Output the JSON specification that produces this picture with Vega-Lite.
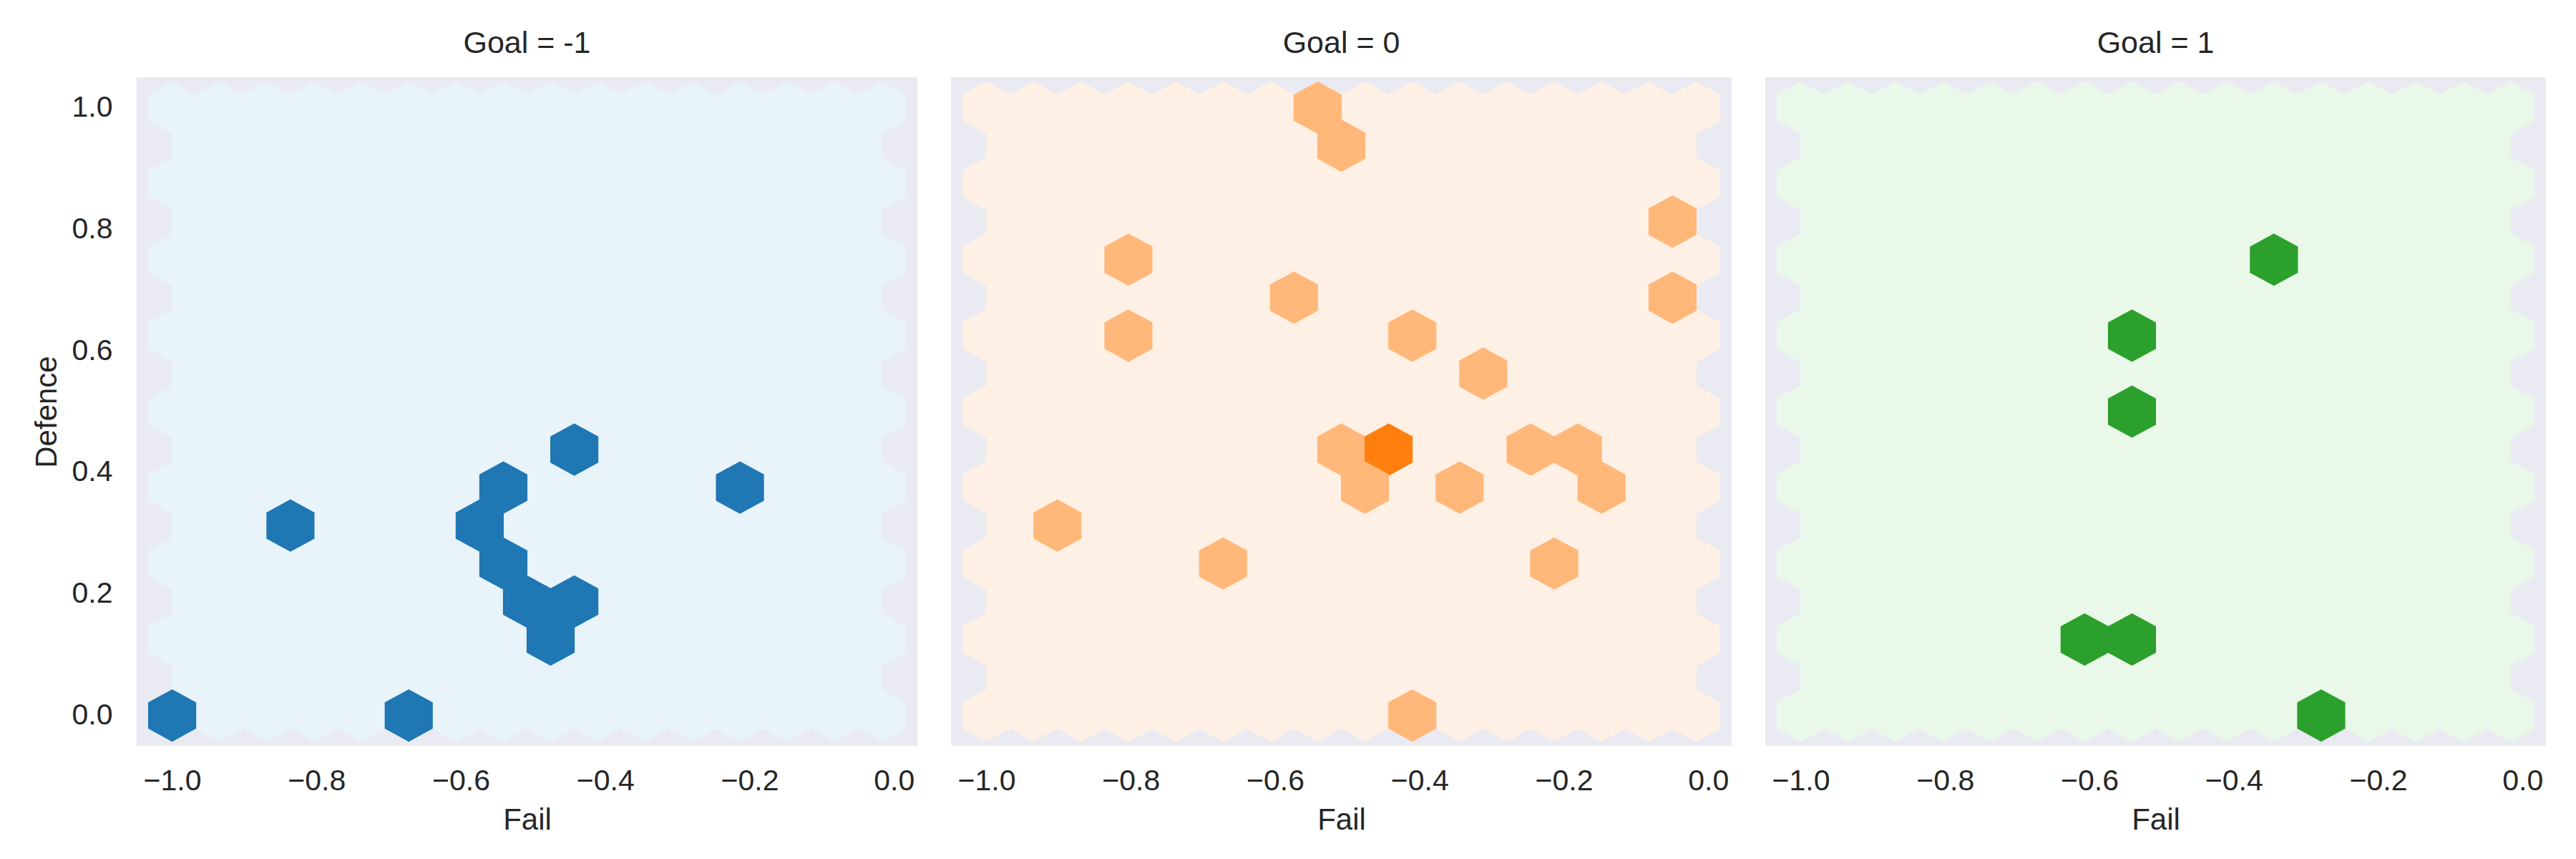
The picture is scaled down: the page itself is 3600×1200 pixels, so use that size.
{
  "$schema": "https://vega.github.io/schema/vega-lite/v6.json",
  "background": "white",
  "padding": {"left": 44, "top": 40, "right": 0, "bottom": 0},
  "spacing": 47,
  "resolve": {"scale": {"color": "independent"}},
  "config": {
    "font": "Liberation Sans",
    "view": {"fill": "#eaeaf2", "stroke": null},
    "axis": {"domain": false, "ticks": false, "tickSize": 0, "grid": false, "labelFlush": false, "labelFont": "Liberation Sans", "labelFontSize": 41, "labelColor": "#262626", "titleFont": "Liberation Sans", "titleFontSize": 42, "titleColor": "#262626", "titleFontWeight": "normal"},
    "axisX": {"labelPadding": 29, "titlePadding": 14},
    "axisY": {"labelPadding": 34, "titlePadding": 13},
    "title": {"font": "Liberation Sans", "fontSize": 43, "fontWeight": "normal", "color": "#262626", "baseline": "alphabetic", "offset": 25}
  },
  "datasets": {
    "bins": [
      {"Fail":-1,"Defence":0},{"Fail":-1,"Defence":0.125},{"Fail":-1,"Defence":0.25},{"Fail":-1,"Defence":0.375},{"Fail":-1,"Defence":0.5},{"Fail":-1,"Defence":0.625},{"Fail":-1,"Defence":0.75},{"Fail":-1,"Defence":0.875},{"Fail":-1,"Defence":1},
      {"Fail":-0.9344,"Defence":0},{"Fail":-0.9344,"Defence":0.125},{"Fail":-0.9344,"Defence":0.25},{"Fail":-0.9344,"Defence":0.375},{"Fail":-0.9344,"Defence":0.5},{"Fail":-0.9344,"Defence":0.625},{"Fail":-0.9344,"Defence":0.75},{"Fail":-0.9344,"Defence":0.875},{"Fail":-0.9344,"Defence":1},
      {"Fail":-0.8689,"Defence":0},{"Fail":-0.8689,"Defence":0.125},{"Fail":-0.8689,"Defence":0.25},{"Fail":-0.8689,"Defence":0.375},{"Fail":-0.8689,"Defence":0.5},{"Fail":-0.8689,"Defence":0.625},{"Fail":-0.8689,"Defence":0.75},{"Fail":-0.8689,"Defence":0.875},{"Fail":-0.8689,"Defence":1},
      {"Fail":-0.8033,"Defence":0},{"Fail":-0.8033,"Defence":0.125},{"Fail":-0.8033,"Defence":0.25},{"Fail":-0.8033,"Defence":0.375},{"Fail":-0.8033,"Defence":0.5},{"Fail":-0.8033,"Defence":0.625},{"Fail":-0.8033,"Defence":0.75},{"Fail":-0.8033,"Defence":0.875},{"Fail":-0.8033,"Defence":1},
      {"Fail":-0.7378,"Defence":0},{"Fail":-0.7378,"Defence":0.125},{"Fail":-0.7378,"Defence":0.25},{"Fail":-0.7378,"Defence":0.375},{"Fail":-0.7378,"Defence":0.5},{"Fail":-0.7378,"Defence":0.625},{"Fail":-0.7378,"Defence":0.75},{"Fail":-0.7378,"Defence":0.875},{"Fail":-0.7378,"Defence":1},
      {"Fail":-0.6722,"Defence":0},{"Fail":-0.6722,"Defence":0.125},{"Fail":-0.6722,"Defence":0.25},{"Fail":-0.6722,"Defence":0.375},{"Fail":-0.6722,"Defence":0.5},{"Fail":-0.6722,"Defence":0.625},{"Fail":-0.6722,"Defence":0.75},{"Fail":-0.6722,"Defence":0.875},{"Fail":-0.6722,"Defence":1},
      {"Fail":-0.6067,"Defence":0},{"Fail":-0.6067,"Defence":0.125},{"Fail":-0.6067,"Defence":0.25},{"Fail":-0.6067,"Defence":0.375},{"Fail":-0.6067,"Defence":0.5},{"Fail":-0.6067,"Defence":0.625},{"Fail":-0.6067,"Defence":0.75},{"Fail":-0.6067,"Defence":0.875},{"Fail":-0.6067,"Defence":1},
      {"Fail":-0.5411,"Defence":0},{"Fail":-0.5411,"Defence":0.125},{"Fail":-0.5411,"Defence":0.25},{"Fail":-0.5411,"Defence":0.375},{"Fail":-0.5411,"Defence":0.5},{"Fail":-0.5411,"Defence":0.625},{"Fail":-0.5411,"Defence":0.75},{"Fail":-0.5411,"Defence":0.875},{"Fail":-0.5411,"Defence":1},
      {"Fail":-0.4756,"Defence":0},{"Fail":-0.4756,"Defence":0.125},{"Fail":-0.4756,"Defence":0.25},{"Fail":-0.4756,"Defence":0.375},{"Fail":-0.4756,"Defence":0.5},{"Fail":-0.4756,"Defence":0.625},{"Fail":-0.4756,"Defence":0.75},{"Fail":-0.4756,"Defence":0.875},{"Fail":-0.4756,"Defence":1},
      {"Fail":-0.41,"Defence":0},{"Fail":-0.41,"Defence":0.125},{"Fail":-0.41,"Defence":0.25},{"Fail":-0.41,"Defence":0.375},{"Fail":-0.41,"Defence":0.5},{"Fail":-0.41,"Defence":0.625},{"Fail":-0.41,"Defence":0.75},{"Fail":-0.41,"Defence":0.875},{"Fail":-0.41,"Defence":1},
      {"Fail":-0.3444,"Defence":0},{"Fail":-0.3444,"Defence":0.125},{"Fail":-0.3444,"Defence":0.25},{"Fail":-0.3444,"Defence":0.375},{"Fail":-0.3444,"Defence":0.5},{"Fail":-0.3444,"Defence":0.625},{"Fail":-0.3444,"Defence":0.75},{"Fail":-0.3444,"Defence":0.875},{"Fail":-0.3444,"Defence":1},
      {"Fail":-0.2789,"Defence":0},{"Fail":-0.2789,"Defence":0.125},{"Fail":-0.2789,"Defence":0.25},{"Fail":-0.2789,"Defence":0.375},{"Fail":-0.2789,"Defence":0.5},{"Fail":-0.2789,"Defence":0.625},{"Fail":-0.2789,"Defence":0.75},{"Fail":-0.2789,"Defence":0.875},{"Fail":-0.2789,"Defence":1},
      {"Fail":-0.2133,"Defence":0},{"Fail":-0.2133,"Defence":0.125},{"Fail":-0.2133,"Defence":0.25},{"Fail":-0.2133,"Defence":0.375},{"Fail":-0.2133,"Defence":0.5},{"Fail":-0.2133,"Defence":0.625},{"Fail":-0.2133,"Defence":0.75},{"Fail":-0.2133,"Defence":0.875},{"Fail":-0.2133,"Defence":1},
      {"Fail":-0.1478,"Defence":0},{"Fail":-0.1478,"Defence":0.125},{"Fail":-0.1478,"Defence":0.25},{"Fail":-0.1478,"Defence":0.375},{"Fail":-0.1478,"Defence":0.5},{"Fail":-0.1478,"Defence":0.625},{"Fail":-0.1478,"Defence":0.75},{"Fail":-0.1478,"Defence":0.875},{"Fail":-0.1478,"Defence":1},
      {"Fail":-0.0822,"Defence":0},{"Fail":-0.0822,"Defence":0.125},{"Fail":-0.0822,"Defence":0.25},{"Fail":-0.0822,"Defence":0.375},{"Fail":-0.0822,"Defence":0.5},{"Fail":-0.0822,"Defence":0.625},{"Fail":-0.0822,"Defence":0.75},{"Fail":-0.0822,"Defence":0.875},{"Fail":-0.0822,"Defence":1},
      {"Fail":-0.0167,"Defence":0},{"Fail":-0.0167,"Defence":0.125},{"Fail":-0.0167,"Defence":0.25},{"Fail":-0.0167,"Defence":0.375},{"Fail":-0.0167,"Defence":0.5},{"Fail":-0.0167,"Defence":0.625},{"Fail":-0.0167,"Defence":0.75},{"Fail":-0.0167,"Defence":0.875},{"Fail":-0.0167,"Defence":1},
      {"Fail":-0.9672,"Defence":0.0625},{"Fail":-0.9672,"Defence":0.1875},{"Fail":-0.9672,"Defence":0.3125},{"Fail":-0.9672,"Defence":0.4375},{"Fail":-0.9672,"Defence":0.5625},{"Fail":-0.9672,"Defence":0.6875},{"Fail":-0.9672,"Defence":0.8125},{"Fail":-0.9672,"Defence":0.9375},
      {"Fail":-0.9017,"Defence":0.0625},{"Fail":-0.9017,"Defence":0.1875},{"Fail":-0.9017,"Defence":0.3125},{"Fail":-0.9017,"Defence":0.4375},{"Fail":-0.9017,"Defence":0.5625},{"Fail":-0.9017,"Defence":0.6875},{"Fail":-0.9017,"Defence":0.8125},{"Fail":-0.9017,"Defence":0.9375},
      {"Fail":-0.8361,"Defence":0.0625},{"Fail":-0.8361,"Defence":0.1875},{"Fail":-0.8361,"Defence":0.3125},{"Fail":-0.8361,"Defence":0.4375},{"Fail":-0.8361,"Defence":0.5625},{"Fail":-0.8361,"Defence":0.6875},{"Fail":-0.8361,"Defence":0.8125},{"Fail":-0.8361,"Defence":0.9375},
      {"Fail":-0.7706,"Defence":0.0625},{"Fail":-0.7706,"Defence":0.1875},{"Fail":-0.7706,"Defence":0.3125},{"Fail":-0.7706,"Defence":0.4375},{"Fail":-0.7706,"Defence":0.5625},{"Fail":-0.7706,"Defence":0.6875},{"Fail":-0.7706,"Defence":0.8125},{"Fail":-0.7706,"Defence":0.9375},
      {"Fail":-0.705,"Defence":0.0625},{"Fail":-0.705,"Defence":0.1875},{"Fail":-0.705,"Defence":0.3125},{"Fail":-0.705,"Defence":0.4375},{"Fail":-0.705,"Defence":0.5625},{"Fail":-0.705,"Defence":0.6875},{"Fail":-0.705,"Defence":0.8125},{"Fail":-0.705,"Defence":0.9375},
      {"Fail":-0.6394,"Defence":0.0625},{"Fail":-0.6394,"Defence":0.1875},{"Fail":-0.6394,"Defence":0.3125},{"Fail":-0.6394,"Defence":0.4375},{"Fail":-0.6394,"Defence":0.5625},{"Fail":-0.6394,"Defence":0.6875},{"Fail":-0.6394,"Defence":0.8125},{"Fail":-0.6394,"Defence":0.9375},
      {"Fail":-0.5739,"Defence":0.0625},{"Fail":-0.5739,"Defence":0.1875},{"Fail":-0.5739,"Defence":0.3125},{"Fail":-0.5739,"Defence":0.4375},{"Fail":-0.5739,"Defence":0.5625},{"Fail":-0.5739,"Defence":0.6875},{"Fail":-0.5739,"Defence":0.8125},{"Fail":-0.5739,"Defence":0.9375},
      {"Fail":-0.5083,"Defence":0.0625},{"Fail":-0.5083,"Defence":0.1875},{"Fail":-0.5083,"Defence":0.3125},{"Fail":-0.5083,"Defence":0.4375},{"Fail":-0.5083,"Defence":0.5625},{"Fail":-0.5083,"Defence":0.6875},{"Fail":-0.5083,"Defence":0.8125},{"Fail":-0.5083,"Defence":0.9375},
      {"Fail":-0.4428,"Defence":0.0625},{"Fail":-0.4428,"Defence":0.1875},{"Fail":-0.4428,"Defence":0.3125},{"Fail":-0.4428,"Defence":0.4375},{"Fail":-0.4428,"Defence":0.5625},{"Fail":-0.4428,"Defence":0.6875},{"Fail":-0.4428,"Defence":0.8125},{"Fail":-0.4428,"Defence":0.9375},
      {"Fail":-0.3772,"Defence":0.0625},{"Fail":-0.3772,"Defence":0.1875},{"Fail":-0.3772,"Defence":0.3125},{"Fail":-0.3772,"Defence":0.4375},{"Fail":-0.3772,"Defence":0.5625},{"Fail":-0.3772,"Defence":0.6875},{"Fail":-0.3772,"Defence":0.8125},{"Fail":-0.3772,"Defence":0.9375},
      {"Fail":-0.3117,"Defence":0.0625},{"Fail":-0.3117,"Defence":0.1875},{"Fail":-0.3117,"Defence":0.3125},{"Fail":-0.3117,"Defence":0.4375},{"Fail":-0.3117,"Defence":0.5625},{"Fail":-0.3117,"Defence":0.6875},{"Fail":-0.3117,"Defence":0.8125},{"Fail":-0.3117,"Defence":0.9375},
      {"Fail":-0.2461,"Defence":0.0625},{"Fail":-0.2461,"Defence":0.1875},{"Fail":-0.2461,"Defence":0.3125},{"Fail":-0.2461,"Defence":0.4375},{"Fail":-0.2461,"Defence":0.5625},{"Fail":-0.2461,"Defence":0.6875},{"Fail":-0.2461,"Defence":0.8125},{"Fail":-0.2461,"Defence":0.9375},
      {"Fail":-0.1806,"Defence":0.0625},{"Fail":-0.1806,"Defence":0.1875},{"Fail":-0.1806,"Defence":0.3125},{"Fail":-0.1806,"Defence":0.4375},{"Fail":-0.1806,"Defence":0.5625},{"Fail":-0.1806,"Defence":0.6875},{"Fail":-0.1806,"Defence":0.8125},{"Fail":-0.1806,"Defence":0.9375},
      {"Fail":-0.115,"Defence":0.0625},{"Fail":-0.115,"Defence":0.1875},{"Fail":-0.115,"Defence":0.3125},{"Fail":-0.115,"Defence":0.4375},{"Fail":-0.115,"Defence":0.5625},{"Fail":-0.115,"Defence":0.6875},{"Fail":-0.115,"Defence":0.8125},{"Fail":-0.115,"Defence":0.9375},
      {"Fail":-0.0494,"Defence":0.0625},{"Fail":-0.0494,"Defence":0.1875},{"Fail":-0.0494,"Defence":0.3125},{"Fail":-0.0494,"Defence":0.4375},{"Fail":-0.0494,"Defence":0.5625},{"Fail":-0.0494,"Defence":0.6875},{"Fail":-0.0494,"Defence":0.8125},{"Fail":-0.0494,"Defence":0.9375}
    ],
    "hex": [
      {"Goal":-1,"Fail":-1,"Defence":0,"Count":1},
      {"Goal":-1,"Fail":-0.6722,"Defence":0,"Count":1},
      {"Goal":-1,"Fail":-0.8361,"Defence":0.3125,"Count":1},
      {"Goal":-1,"Fail":-0.5411,"Defence":0.375,"Count":1},
      {"Goal":-1,"Fail":-0.5739,"Defence":0.3125,"Count":1},
      {"Goal":-1,"Fail":-0.5411,"Defence":0.25,"Count":1},
      {"Goal":-1,"Fail":-0.5083,"Defence":0.1875,"Count":1},
      {"Goal":-1,"Fail":-0.4428,"Defence":0.1875,"Count":1},
      {"Goal":-1,"Fail":-0.4756,"Defence":0.125,"Count":1},
      {"Goal":-1,"Fail":-0.4428,"Defence":0.4375,"Count":1},
      {"Goal":-1,"Fail":-0.2133,"Defence":0.375,"Count":1},
      {"Goal":0,"Fail":-0.5411,"Defence":1,"Count":1},
      {"Goal":0,"Fail":-0.5083,"Defence":0.9375,"Count":1},
      {"Goal":0,"Fail":-0.0494,"Defence":0.8125,"Count":1},
      {"Goal":0,"Fail":-0.0494,"Defence":0.6875,"Count":1},
      {"Goal":0,"Fail":-0.8033,"Defence":0.75,"Count":1},
      {"Goal":0,"Fail":-0.8033,"Defence":0.625,"Count":1},
      {"Goal":0,"Fail":-0.5739,"Defence":0.6875,"Count":1},
      {"Goal":0,"Fail":-0.41,"Defence":0.625,"Count":1},
      {"Goal":0,"Fail":-0.3117,"Defence":0.5625,"Count":1},
      {"Goal":0,"Fail":-0.5083,"Defence":0.4375,"Count":1},
      {"Goal":0,"Fail":-0.4428,"Defence":0.4375,"Count":2},
      {"Goal":0,"Fail":-0.4756,"Defence":0.375,"Count":1},
      {"Goal":0,"Fail":-0.3444,"Defence":0.375,"Count":1},
      {"Goal":0,"Fail":-0.2461,"Defence":0.4375,"Count":1},
      {"Goal":0,"Fail":-0.1806,"Defence":0.4375,"Count":1},
      {"Goal":0,"Fail":-0.1478,"Defence":0.375,"Count":1},
      {"Goal":0,"Fail":-0.9017,"Defence":0.3125,"Count":1},
      {"Goal":0,"Fail":-0.6722,"Defence":0.25,"Count":1},
      {"Goal":0,"Fail":-0.2133,"Defence":0.25,"Count":1},
      {"Goal":0,"Fail":-0.41,"Defence":0,"Count":1},
      {"Goal":1,"Fail":-0.3444,"Defence":0.75,"Count":1},
      {"Goal":1,"Fail":-0.5411,"Defence":0.625,"Count":1},
      {"Goal":1,"Fail":-0.5411,"Defence":0.5,"Count":1},
      {"Goal":1,"Fail":-0.6067,"Defence":0.125,"Count":1},
      {"Goal":1,"Fail":-0.5411,"Defence":0.125,"Count":1},
      {"Goal":1,"Fail":-0.2789,"Defence":0,"Count":1}
    ]
  },
  "hconcat": [
    {
      "width": 1091, "height": 934,
      "title": {"text": "Goal = -1"},
      "layer": [
        {
          "data": {"name": "bins"},
          "mark": {"type": "point", "shape": "M0,-1L0.918,-0.5L0.918,0.5L0,1L-0.918,0.5L-0.918,-0.5Z", "size": 5358, "filled": true, "opacity": 1, "strokeWidth": 0, "color": "#e8f3fa"},
          "encoding": {
            "x": {"field": "Fail", "type": "quantitative", "scale": {"domain": [-1.049167, 0.0325], "nice": false, "zero": false}, "axis": {"values": [-1, -0.8, -0.6, -0.4, -0.2, 0], "format": ".1f", "title": "Fail"}},
            "y": {"field": "Defence", "type": "quantitative", "scale": {"domain": [-0.05, 1.05], "nice": false, "zero": false}, "axis": {"values": [0, 0.2, 0.4, 0.6, 0.8, 1], "format": ".1f", "title": "Defence"}}
          }
        },
        {
          "data": {"name": "hex"},
          "transform": [{"filter": {"field": "Goal", "equal": -1}}],
          "mark": {"type": "point", "shape": "M0,-1L0.918,-0.5L0.918,0.5L0,1L-0.918,0.5L-0.918,-0.5Z", "size": 5358, "filled": true, "opacity": 1, "strokeWidth": 0},
          "encoding": {
            "x": {"field": "Fail", "type": "quantitative"},
            "y": {"field": "Defence", "type": "quantitative"},
            "color": {"field": "Count", "type": "quantitative", "scale": {"type": "linear", "domain": [0, 1], "range": ["#e8f3fa", "#1f77b4"], "interpolate": "rgb"}, "legend": null}
          }
        }
      ]
    },
    {
      "width": 1091, "height": 934,
      "title": {"text": "Goal = 0"},
      "layer": [
        {
          "data": {"name": "bins"},
          "mark": {"type": "point", "shape": "M0,-1L0.918,-0.5L0.918,0.5L0,1L-0.918,0.5L-0.918,-0.5Z", "size": 5358, "filled": true, "opacity": 1, "strokeWidth": 0, "color": "#fef0e5"},
          "encoding": {
            "x": {"field": "Fail", "type": "quantitative", "scale": {"domain": [-1.049167, 0.0325], "nice": false, "zero": false}, "axis": {"values": [-1, -0.8, -0.6, -0.4, -0.2, 0], "format": ".1f", "title": "Fail"}},
            "y": {"field": "Defence", "type": "quantitative", "scale": {"domain": [-0.05, 1.05], "nice": false, "zero": false}, "axis": null}
          }
        },
        {
          "data": {"name": "hex"},
          "transform": [{"filter": {"field": "Goal", "equal": 0}}],
          "mark": {"type": "point", "shape": "M0,-1L0.918,-0.5L0.918,0.5L0,1L-0.918,0.5L-0.918,-0.5Z", "size": 5358, "filled": true, "opacity": 1, "strokeWidth": 0},
          "encoding": {
            "x": {"field": "Fail", "type": "quantitative"},
            "y": {"field": "Defence", "type": "quantitative"},
            "color": {"field": "Count", "type": "quantitative", "scale": {"type": "linear", "domain": [0, 2], "range": ["#fef0e5", "#ff7f0e"], "interpolate": "rgb"}, "legend": null}
          }
        }
      ]
    },
    {
      "width": 1091, "height": 934,
      "title": {"text": "Goal = 1"},
      "layer": [
        {
          "data": {"name": "bins"},
          "mark": {"type": "point", "shape": "M0,-1L0.918,-0.5L0.918,0.5L0,1L-0.918,0.5L-0.918,-0.5Z", "size": 5358, "filled": true, "opacity": 1, "strokeWidth": 0, "color": "#eaf8ea"},
          "encoding": {
            "x": {"field": "Fail", "type": "quantitative", "scale": {"domain": [-1.049167, 0.0325], "nice": false, "zero": false}, "axis": {"values": [-1, -0.8, -0.6, -0.4, -0.2, 0], "format": ".1f", "title": "Fail"}},
            "y": {"field": "Defence", "type": "quantitative", "scale": {"domain": [-0.05, 1.05], "nice": false, "zero": false}, "axis": null}
          }
        },
        {
          "data": {"name": "hex"},
          "transform": [{"filter": {"field": "Goal", "equal": 1}}],
          "mark": {"type": "point", "shape": "M0,-1L0.918,-0.5L0.918,0.5L0,1L-0.918,0.5L-0.918,-0.5Z", "size": 5358, "filled": true, "opacity": 1, "strokeWidth": 0},
          "encoding": {
            "x": {"field": "Fail", "type": "quantitative"},
            "y": {"field": "Defence", "type": "quantitative"},
            "color": {"field": "Count", "type": "quantitative", "scale": {"type": "linear", "domain": [0, 1], "range": ["#eaf8ea", "#2ca02c"], "interpolate": "rgb"}, "legend": null}
          }
        }
      ]
    }
  ]
}
